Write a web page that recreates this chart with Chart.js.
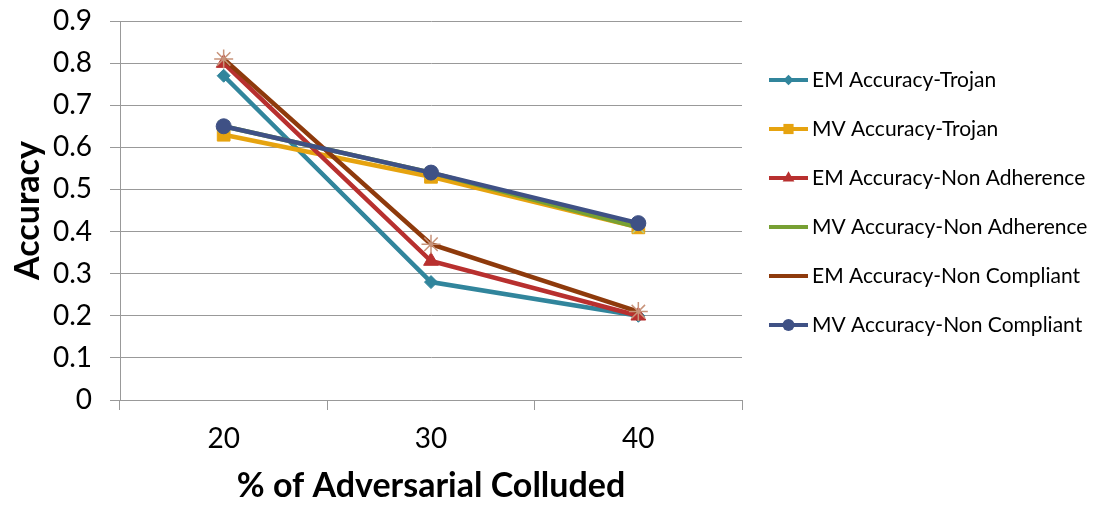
<!DOCTYPE html>
<html>
<head>
<meta charset="utf-8">
<script src="https://cdn.jsdelivr.net/npm/chart.js@4/dist/chart.umd.min.js"></script>
<style>
    html, body { margin: 0; padding: 0; background: #fff; }
    #wrap { width: 1104px; height: 506px; }
</style>
</head>
<body>
<div id="wrap"><canvas id="accuracyChart"></canvas></div>
<script>
var categories = ['20', '30', '40'];
var seriesNames = [
    'EM Accuracy-Trojan',
    'MV Accuracy-Trojan',
    'EM Accuracy-Non Adherence',
    'MV Accuracy-Non Adherence',
    'EM Accuracy-Non Compliant',
    'MV Accuracy-Non Compliant'
];
var emTrojan = [0.77, 0.28, 0.20];
var mvTrojan = [0.63, 0.53, 0.41];
var emNonAdherence = [0.80, 0.33, 0.20];
var mvNonAdherence = [0.65, 0.54, 0.41];
var emNonCompliant = [0.81, 0.37, 0.21];
var mvNonCompliant = [0.65, 0.54, 0.42];
var yTicks = [0, 0.1, 0.2, 0.3, 0.4, 0.5, 0.6, 0.7, 0.8, 0.9];

var font = "Lato, 'Gill Sans', 'Open Sans', sans-serif";

var styles = [
    { line: '#31859c', mark: '#31859c', shape: 'rectRot', r: 6.5, bw: 1 },
    { line: '#e6a30f', mark: '#e6a30f', shape: 'rect', r: 9, bw: 1 },
    { line: '#b8302f', mark: '#b8302f', shape: 'triangle', r: 8.5, bw: 1 },
    { line: '#77a033', mark: '#b3cf8c', shape: 'crossRot', r: 8, bw: 1.5 },
    { line: '#8e3a0c', mark: '#c8937a', shape: 'star', r: 9.5, bw: 1.5 },
    { line: '#3f5185', mark: '#3f5185', shape: 'circle', r: 7.5, bw: 1 }
];
var values = [emTrojan, mvTrojan, emNonAdherence, mvNonAdherence, emNonCompliant, mvNonCompliant];

var datasets = [];
for (var i = 0; i < values.length; ++i) {
    datasets.push({
        label: seriesNames[i],
        data: values[i],
        borderColor: styles[i].line,
        backgroundColor: styles[i].mark,
        borderWidth: 4.5,
        pointStyle: styles[i].shape,
        pointRadius: styles[i].r,
        pointBorderColor: styles[i].mark,
        pointBackgroundColor: styles[i].mark,
        pointBorderWidth: styles[i].bw,
        tension: 0,
        fill: false,
        order: values.length - i
    });
}

// legend with a line and a marker for each series, drawn to the right
var sideLegend = {
    id: 'sideLegend',
    afterDraw: function (chart) {
        var ctx = chart.ctx;
        var x0 = 769, x1 = 808, top = 80, step = 49;
        ctx.save();
        for (var i = 0; i < chart.data.datasets.length; ++i) {
            var ds = chart.data.datasets[i];
            var y = top + i * step;
            ctx.strokeStyle = ds.borderColor;
            ctx.lineWidth = 4;
            ctx.beginPath();
            ctx.moveTo(x0, y);
            ctx.lineTo(x1, y);
            ctx.stroke();
            ctx.fillStyle = ds.pointBackgroundColor;
            ctx.strokeStyle = ds.pointBorderColor;
            ctx.lineWidth = ds.pointBorderWidth;
            Chart.helpers.drawPoint(ctx, {
                pointStyle: ds.pointStyle,
                radius: ds.pointRadius * 0.8,
                rotation: 0
            }, (x0 + x1) / 2, y);
            ctx.fillStyle = '#000';
            ctx.font = '21px ' + font;
            ctx.textBaseline = 'middle';
            ctx.textAlign = 'left';
            ctx.fillText(ds.label, 812, y);
        }
        ctx.restore();
    }
};

var chart = new Chart(document.getElementById('accuracyChart'), {
    type: 'line',
    data: {
        labels: categories,
        datasets: datasets
    },
    options: {
        responsive: true,
        maintainAspectRatio: false,
        animation: false,
        layout: { padding: { top: 21, right: 362, left: 0, bottom: 0 } },
        plugins: {
            legend: { display: false },
            tooltip: { enabled: false }
        },
        scales: {
            x: {
                offset: true,
                grid: {
                    offset: true,
                    drawOnChartArea: false,
                    color: '#999',
                    tickLength: 10
                },
                border: { color: '#999' },
                ticks: {
                    color: '#000',
                    padding: 12,
                    font: { family: font, size: 28 }
                },
                title: {
                    display: true,
                    text: '% of Adversarial Colluded',
                    color: '#000',
                    padding: { top: 0, bottom: 0 },
                    font: { family: font, size: 34, weight: 'bold' }
                },
                afterFit: function (scale) {
                    scale.height = 106;
                    scale.paddingLeft = 0;
                    scale.paddingRight = 0;
                }
            },
            y: {
                min: 0,
                max: 0.9,
                afterBuildTicks: function (scale) {
                    scale.ticks = yTicks.map(function (v) { return { value: v }; });
                },
                grid: {
                    color: '#999',
                    tickLength: 10
                },
                border: { color: '#999' },
                ticks: {
                    color: '#000',
                    padding: 18,
                    font: { family: font, size: 28 },
                    callback: function (v) { return String(Math.round(v * 10) / 10); }
                },
                title: {
                    display: true,
                    text: 'Accuracy',
                    color: '#000',
                    padding: { top: 8, bottom: 0 },
                    font: { family: font, size: 34, weight: 'bold' }
                },
                afterFit: function (scale) {
                    scale.width = 120;
                    scale.paddingTop = 0;
                    scale.paddingBottom = 0;
                }
            }
        }
    },
    plugins: [sideLegend]
});
</script>
</body>
</html>
